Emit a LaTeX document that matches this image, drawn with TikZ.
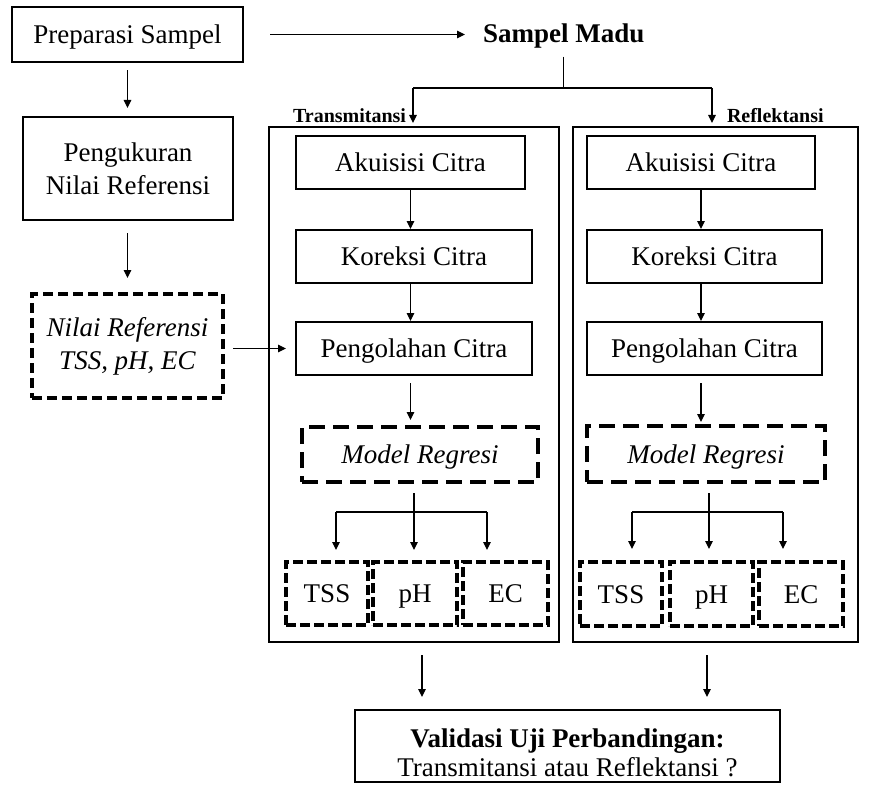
\documentclass[tikz,border=0pt]{standalone}
\usepackage{fontspec}
\setmainfont{Liberation Serif}
\usetikzlibrary{arrows.meta}
\begin{document}
\begin{tikzpicture}[x=1bp,y=-1bp,
  every node/.style={inner sep=0pt, outer sep=0pt},
  txt/.style={font=\fontsize{27bp}{33bp}\selectfont},
  itxt/.style={font=\fontsize{27bp}{33bp}\selectfont\itshape},
  lbl/.style={font=\fontsize{20bp}{24bp}\selectfont\bfseries},
  sbox/.style={draw, line width=1.2bp, text height=18bp, text depth=0bp},
  dbox/.style={draw, line width=3.2bp, dash pattern=on 10bp off 4bp, text height=18bp, text depth=0bp},
  mbox/.style={draw, line width=3.2bp, dash pattern=on 16bp off 8bp, text height=18bp, text depth=0bp},
  frame/.style={draw, line width=2.3bp, minimum width=#1, minimum height=515bp},
  line/.style={line width=1.2bp},
  arr/.style={line width=1.2bp, -{Triangle[length=8bp,width=7.5bp]}}
]
\fill[white] (0,0) rectangle (872,802);
\useasboundingbox (0,0) rectangle (872,802);

% left column
\node[sbox, txt, minimum width=231bp, minimum height=55bp] (prep) at (127.5,34.5) {Preparasi Sampel};
\node[draw, line width=1.2bp, txt, align=center, minimum width=210bp, minimum height=103bp] (peng) at (128,168.5) {Pengukuran\\Nilai Referensi};
\node[draw, line width=3.2bp, dash pattern=on 10bp off 5bp, itxt, align=center, minimum width=191bp, minimum height=104bp] (nil) at (127.5,346) {Nilai Referensi\\TSS, pH, EC};

% top
\node[font=\fontsize{27bp}{33bp}\selectfont\bfseries, anchor=base west] (madu) at (483,43) {Sampel Madu};
\node[lbl, anchor=base east] (trans) at (406,122) {Transmitansi};
\node[lbl, anchor=base west] (refl) at (727,122) {Reflektansi};

% frames
\node[frame=290bp] (frL) at (414,384.5) {};
\node[frame=285bp] (frR) at (715.5,384.5) {};

% transmitansi column
\node[sbox, txt, minimum width=229bp, minimum height=53bp] (akL) at (410.5,162.5) {Akuisisi Citra};
\node[sbox, txt, minimum width=236bp, minimum height=53bp] (koL) at (414,256.5) {Koreksi Citra};
\node[sbox, txt, minimum width=236bp, minimum height=53bp] (poL) at (414,348.5) {Pengolahan Citra};
\node[mbox, itxt, minimum width=236bp, minimum height=55bp] (moL) at (420,454.5) {Model Regresi};
\node[dbox, txt, minimum width=82bp, minimum height=63bp] (tssL) at (327,593.5) {TSS};
\node[dbox, txt, minimum width=84bp, minimum height=63bp] (phL) at (415,593.5) {pH};
\node[dbox, txt, minimum width=85bp, minimum height=63bp] (ecL) at (505.5,593.5) {EC};

% reflektansi column
\node[sbox, txt, minimum width=228bp, minimum height=53bp] (akR) at (701,162.5) {Akuisisi Citra};
\node[sbox, txt, minimum width=235bp, minimum height=53bp] (koR) at (704.5,256.5) {Koreksi Citra};
\node[sbox, txt, minimum width=235bp, minimum height=53bp] (poR) at (704.5,348.5) {Pengolahan Citra};
\node[mbox, itxt, minimum width=238bp, minimum height=56bp] (moR) at (706,454) {Model Regresi};
\node[dbox, txt, minimum width=82bp, minimum height=64bp] (tssR) at (621,594) {TSS};
\node[dbox, txt, minimum width=83bp, minimum height=64bp] (phR) at (711.5,594) {pH};
\node[dbox, txt, minimum width=84bp, minimum height=64bp] (ecR) at (801,594) {EC};

% bottom
\node[draw, line width=1.2bp, font=\fontsize{27bp}{29bp}\selectfont, align=center, minimum width=425bp, minimum height=72bp] (val) at (567.5,746) {{\bfseries Validasi Uji Perbandingan:}\rule{0pt}{32bp}\\Transmitansi atau Reflektansi ?};

% coordinates
\coordinate (tL) at (413,88);
\coordinate (tR) at (712,88);
\coordinate (bL) at (414,512);
\coordinate (bL1) at (336,512);
\coordinate (bL3) at (487,512);
\coordinate (bR) at (709,512);
\coordinate (bR1) at (632,512);
\coordinate (bR3) at (783,512);
\coordinate (vL) at (422,0);
\coordinate (vR) at (707,0);

% connectors left
\draw[arr, shorten <=27bp, shorten >=18bp] (prep.east) -- (madu.west |- prep.east);
\draw[arr, shorten <=8bp, shorten >=9bp] (prep.south) -- (peng.north -| prep.south);
\draw[arr, shorten <=13bp, shorten >=16bp] (peng.south -| prep.south) -- (nil.north -| prep.south);
\draw[arr, shorten <=10bp, shorten >=10bp] (nil.east |- poL.west) -- (poL.west);

% madu branches
\draw[line, shorten <=8bp] (madu.south) -- (madu.south |- tL);
\draw[line] (tL) -- (tR);
\draw[arr, shorten >=4bp] (tL) -- (tL |- frL.north);
\draw[arr, shorten >=4bp] (tR) -- (tR |- frR.north);

% transmitansi flow
\draw[arr, shorten >=1bp] (akL.south) -- (koL.north -| akL.south);
\draw[arr, shorten >=1bp] (koL.south -| akL.south) -- (poL.north -| akL.south);
\draw[arr, shorten <=8bp, shorten >=7bp] (poL.south -| akL.south) -- (moL.north -| akL.south);
\draw[arr, shorten <=11bp, shorten >=12bp] (moL.south -| bL) -- (phL.north -| bL);
\draw[line] (bL1) -- (bL3);
\draw[arr, shorten >=12bp] (bL1) -- (bL1 |- tssL.north);
\draw[arr, shorten >=12bp] (bL3) -- (bL3 |- ecL.north);

% reflektansi flow
\draw[arr, shorten >=1bp] (akR.south) -- (koR.north -| akR.south);
\draw[arr, shorten >=1bp] (koR.south -| akR.south) -- (poR.north -| akR.south);
\draw[arr, shorten <=8bp, shorten >=4bp] (poR.south -| akR.south) -- (moR.north -| akR.south);
\draw[arr, shorten <=11bp, shorten >=13bp] (moR.south -| bR) -- (phR.north -| bR);
\draw[line] (bR1) -- (bR3);
\draw[arr, shorten >=13bp] (bR1) -- (bR1 |- tssR.north);
\draw[arr, shorten >=13bp] (bR3) -- (bR3 |- ecR.north);

% to validation
\draw[arr, shorten <=13bp, shorten >=13bp] (vL |- frL.south) -- (vL |- val.north);
\draw[arr, shorten <=13bp, shorten >=13bp] (vR |- frR.south) -- (vR |- val.north);
\end{tikzpicture}
\end{document}
